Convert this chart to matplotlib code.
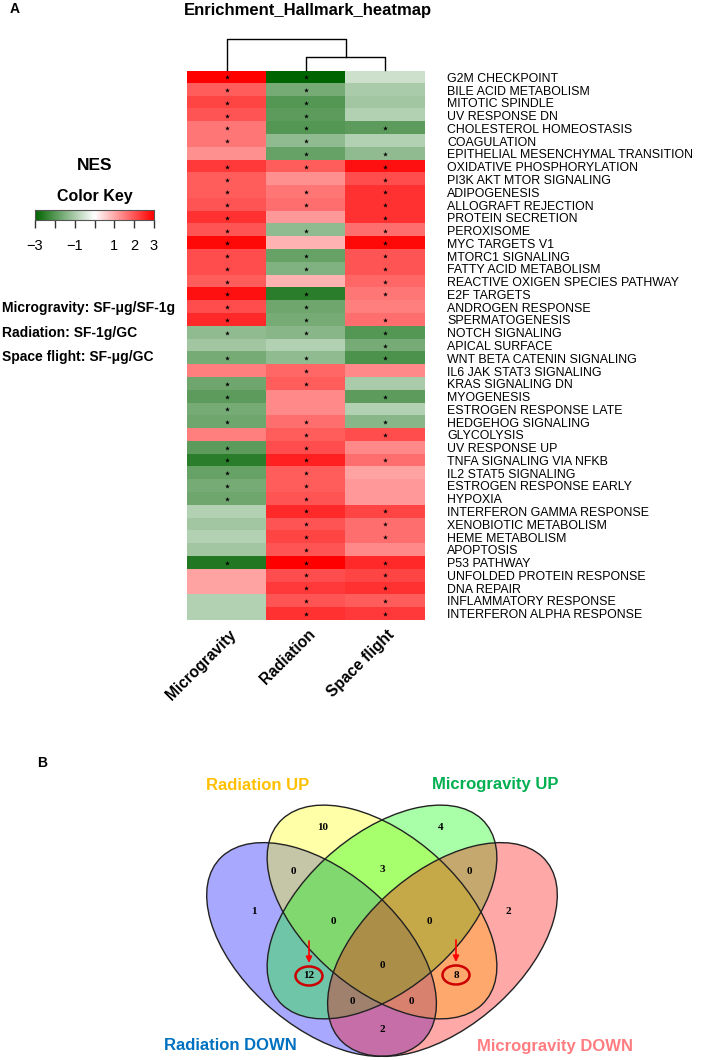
import numpy as np
import matplotlib
matplotlib.use("Agg")
import matplotlib.pyplot as plt
from matplotlib.colors import LinearSegmentedColormap
from matplotlib.patches import Ellipse

plt.rcParams["font.family"] = ["Liberation Sans", "DejaVu Sans"]

# ---------- data ----------
pathways = [
    "G2M CHECKPOINT", "BILE ACID METABOLISM", "MITOTIC SPINDLE", "UV RESPONSE DN",
    "CHOLESTEROL HOMEOSTASIS", "COAGULATION", "EPITHELIAL MESENCHYMAL TRANSITION",
    "OXIDATIVE PHOSPHORYLATION", "PI3K AKT MTOR SIGNALING", "ADIPOGENESIS",
    "ALLOGRAFT REJECTION", "PROTEIN SECRETION", "PEROXISOME", "MYC TARGETS V1",
    "MTORC1 SIGNALING", "FATTY ACID METABOLISM", "REACTIVE OXIGEN SPECIES PATHWAY",
    "E2F TARGETS", "ANDROGEN RESPONSE", "SPERMATOGENESIS", "NOTCH SIGNALING",
    "APICAL SURFACE", "WNT BETA CATENIN SIGNALING", "IL6 JAK STAT3 SIGNALING",
    "KRAS SIGNALING DN", "MYOGENESIS", "ESTROGEN RESPONSE LATE", "HEDGEHOG SIGNALING",
    "GLYCOLYSIS", "UV RESPONSE UP", "TNFA SIGNALING VIA NFKB", "IL2 STAT5 SIGNALING",
    "ESTROGEN RESPONSE EARLY", "HYPOXIA", "INTERFERON GAMMA RESPONSE",
    "XENOBIOTIC METABOLISM", "HEME METABOLISM", "APOPTOSIS", "P53 PATHWAY",
    "UNFOLDED PROTEIN RESPONSE", "DNA REPAIR", "INFLAMMATORY RESPONSE",
    "INTERFERON ALPHA RESPONSE",
]
conditions = ["Microgravity", "Radiation", "Space flight"]

nes_micro = [3.0, 1.9, 2.2, 2.0, 1.6, 1.6, 1.3, 2.3, 1.9, 1.9, 2.0, 2.4, 2.0, 2.9,
             2.1, 2.1, 1.9, 2.8, 2.1, 2.5, -1.3, -1.1, -1.6, 1.5, -1.7, -1.9, -1.6,
             -1.7, 1.5, -1.9, -2.5, -1.8, -1.6, -1.7, -0.9, -1.1, -0.9, -1.1, -2.6,
             1.1, 1.1, -0.9, -0.9]
nes_rad = [-3.0, -1.6, -2.0, -1.9, -2.0, -1.3, -1.8, 1.9, 1.3, 1.6, 1.7, 1.2, -1.3,
           0.9, -1.8, -1.5, 0.9, -2.5, -1.7, -1.6, -1.4, -0.9, -1.3, 1.8, 1.9, 1.4,
           1.4, 1.7, 1.9, 2.1, 2.6, 1.9, 1.9, 2.0, 2.5, 2.0, 2.2, 2.0, 3.0, 2.1, 2.3,
           2.0, 2.4]
nes_space = [-0.6, -1.0, -1.1, -0.9, -1.9, -0.9, -1.3, 2.8, 2.1, 2.4, 2.4, 2.4, 1.7,
             2.9, 2.0, 2.0, 1.8, 1.6, 1.5, 1.7, -2.0, -1.6, -2.1, 1.4, -1.0, -1.9,
             -0.9, -1.4, 2.1, 1.4, 1.7, 1.1, 1.2, 1.2, 2.2, 1.7, 1.7, 1.4, 2.5, 2.2,
             2.4, 1.9, 2.3]

sig_micro = [1, 1, 1, 1, 1, 1, 0, 1, 1, 1, 1, 1, 1, 1, 1, 1, 1, 1, 1, 1, 1, 0, 1, 0,
             1, 1, 1, 1, 0, 1, 1, 1, 1, 1, 0, 0, 0, 0, 1, 0, 0, 0, 0]
sig_rad = [1, 1, 1, 1, 1, 1, 1, 1, 0, 1, 1, 0, 1, 0, 1, 1, 0, 1, 1, 1, 1, 0, 1, 1,
           1, 0, 0, 1, 1, 1, 1, 1, 1, 1, 1, 1, 1, 1, 1, 1, 1, 1, 1]
sig_space = [0, 0, 0, 0, 1, 0, 1, 1, 1, 1, 1, 1, 1, 1, 1, 1, 1, 1, 0, 1, 1, 1, 1, 0,
             0, 1, 0, 1, 1, 0, 1, 0, 0, 0, 1, 1, 1, 0, 1, 1, 1, 1, 1]

key_ticks = [-3, -2, -1, 0, 1, 2, 3]
key_labels = ["\u22123", "", "\u22121", "", "1", "2", "3"]

comparisons = ["Microgravity: SF-\u03bcg/SF-1g", "Radiation: SF-1g/GC",
               "Space flight: SF-\u03bcg/GC"]

venn_sets = ["Radiation DOWN", "Radiation UP", "Microgravity UP", "Microgravity DOWN"]
venn_counts = [1, 10, 4, 2, 0, 3, 0, 0, 0, 0, 12, 0, 8, 0, 2]
venn_marked = [12, 8]

# ---------- layout ----------
W, H = 709, 1060
fig = plt.figure(figsize=(W / 100, H / 100), dpi=100)

# venn drawn in unit-square geometry (VennDiagram quad layout), stretched onto the page
VX0, VX1, VY_TOP, VY_BOT = 180.5, 583.5, 750.75, 1060
vax = fig.add_axes([VX0 / W, 0, (VX1 - VX0) / W, (VY_BOT - VY_TOP) / H])
vax.set_xlim(0, 1)
vax.set_ylim(0.1753, 1.0)
vax.axis("off")

ov = fig.add_axes([0, 0, 1, 1])
ov.set_xlim(0, W)
ov.set_ylim(H, 0)
ov.axis("off")
ov.set_zorder(5)

HX0, HX1, HY0, HY1 = 187, 425, 71, 620
hm = fig.add_axes([HX0 / W, 1 - HY1 / H, (HX1 - HX0) / W, (HY1 - HY0) / H])

cmap = LinearSegmentedColormap.from_list("nes", ["#006400", "#ffffff", "#ff0000"])
data = np.column_stack([nes_micro, nes_rad, nes_space])
sig = np.column_stack([sig_micro, sig_rad, sig_space])
hm.imshow(data, cmap=cmap, vmin=-3, vmax=3, aspect="auto", interpolation="nearest")
rr, cc = np.nonzero(sig)
hm.scatter(cc, rr, marker="*", s=13, c="black", linewidths=0)
hm.set_xlim(-0.5, 2.5)
hm.set_ylim(len(pathways) - 0.5, -0.5)
hm.set_xticks([])
hm.set_yticks(range(len(pathways)))
hm.set_yticklabels(pathways, fontsize=8.9)
hm.yaxis.tick_right()
hm.tick_params(axis="y", length=0, pad=16)
for sp in hm.spines.values():
    sp.set_visible(False)

# column labels and dendrogram
col_w = (HX1 - HX0) / len(conditions)
col_x = [HX0 + (i + 0.5) * col_w for i in range(len(conditions))]
for x, name in zip(col_x, conditions):
    ov.text(x + 7, 632, name, rotation=45, rotation_mode="anchor", ha="right",
            va="center", fontsize=11.2, fontweight="bold")

merge_h = [14, 32]  # heights above heatmap
y_low, y_high = HY0 - merge_h[0], HY0 - merge_h[1]
mid = (col_x[1] + col_x[2]) / 2
dk = dict(color="black", lw=1)
ov.plot([col_x[1], col_x[1], col_x[2], col_x[2]], [HY0 - 1, y_low, y_low, HY0 - 1], **dk)
ov.plot([col_x[0], col_x[0], mid, mid], [HY0 - 1, y_high, y_high, y_low], **dk)

ov.text(10, 9, "A", fontsize=10, fontweight="bold", va="center")
ov.text(308, 10, "Enrichment_Hallmark_heatmap", fontsize=12, fontweight="bold",
        ha="center", va="center")

# color key
ov.text(95, 166, "NES", fontsize=12.5, fontweight="bold", ha="center", va="center")
ov.text(95, 196, "Color Key", fontsize=11.5, fontweight="bold", ha="center", va="center")
cax = fig.add_axes([35 / W, 1 - 220 / H, 119 / W, 10 / H])
cax.imshow(np.linspace(-3, 3, 256)[None, :], cmap=cmap, aspect="auto",
           extent=[-3, 3, 0, 1])
cax.set_yticks([])
cax.set_xticks(key_ticks)
cax.set_xticklabels(key_labels)
cax.tick_params(axis="x", length=6, width=1, labelsize=10.5, pad=8, color="#333333")
for sp in cax.spines.values():
    sp.set_color("#555555")
    sp.set_linewidth(0.8)

for i, txt in enumerate(comparisons):
    ov.text(2, 308 + i * 24.5, txt, fontsize=10, fontweight="bold", va="center")

# ---------- venn ----------
ell_xy = [(0.35, 0.47), (0.5, 0.57), (0.5, 0.57), (0.65, 0.47)]
ell_ang = [135, 135, 45, 45]
ell_fill = ["#0000ff", "#ffff00", "#00ff00", "#ff0000"]
for (x, y), a, c in zip(ell_xy, ell_ang, ell_fill):
    vax.add_patch(Ellipse((x, y), 0.70, 0.40, angle=a, facecolor=c, alpha=0.34,
                          edgecolor="none"))
for (x, y), a in zip(ell_xy, ell_ang):
    vax.add_patch(Ellipse((x, y), 0.70, 0.40, angle=a, facecolor="none",
                          edgecolor="#222222", lw=1))

ov.text(37, 763, "B", fontsize=10, fontweight="bold", va="center")
region_xy = [(254, 911), (323, 828), (441, 828), (508, 911), (293, 872), (382, 869),
             (469, 872), (333, 921), (382, 965), (429, 922), (309, 976), (352, 1001),
             (456, 975), (411, 1001), (382, 1029)]
for (x, y), n in zip(region_xy, venn_counts):
    ov.text(x, y, str(n), fontsize=8, fontweight="bold", family="Liberation Serif",
            ha="center", va="center")

marked = list(venn_marked)
for (x, y), n in zip(region_xy, venn_counts):
    if n in marked:
        ov.add_patch(Ellipse((x, y), 27, 19, facecolor="none", edgecolor="#cc0000",
                             lw=1.8))
        ov.annotate("", xy=(x, y - 13), xytext=(x, y - 35),
                    arrowprops=dict(arrowstyle="-|>", color="red", lw=1.2,
                                    mutation_scale=9, shrinkA=0, shrinkB=0))
        marked.remove(n)

label_xy = [(230, 1046), (258, 785), (495, 785), (555, 1046)]
label_col = ["#0070c0", "#ffc000", "#00b050", "#ff7c80"]
for (x, y), name, c in zip(label_xy, venn_sets, label_col):
    ov.text(x, y, name, fontsize=12, fontweight="bold", color=c, ha="center",
            va="center")

fig.savefig("out.png", dpi=100)
